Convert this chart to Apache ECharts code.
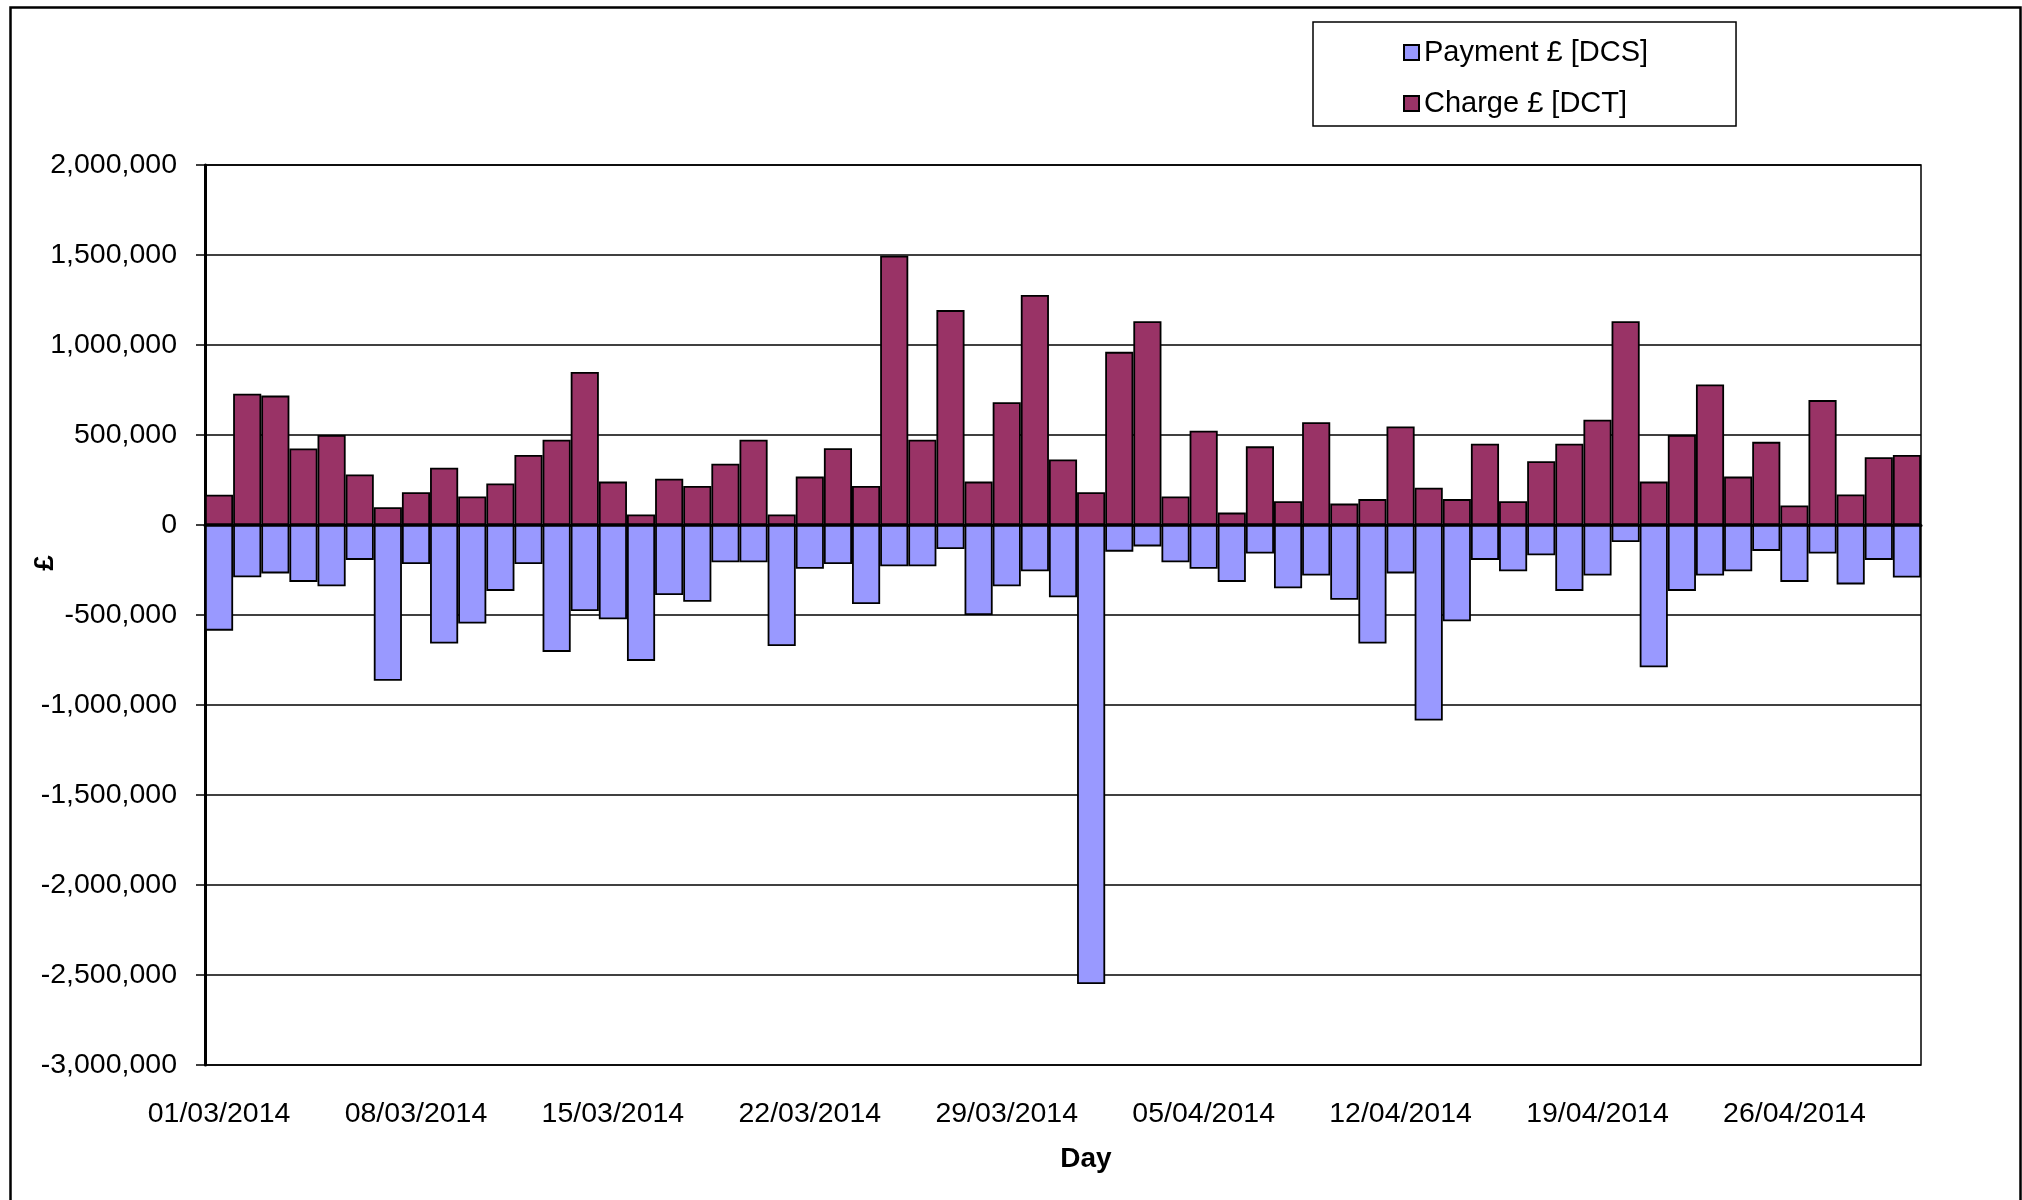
<!DOCTYPE html>
<html>
<head>
<meta charset="utf-8">
<title>Payment and Charge by Day</title>
<script src="https://cdn.jsdelivr.net/npm/echarts@6/dist/echarts.min.js"></script>
<style>
  html, body { margin: 0; padding: 0; background: #fff; }
  #main { width: 2022px; height: 1200px; }
</style>
</head>
<body>
<div id="main"></div>
<script>
var days = [
    '01/03/2014', '02/03/2014', '03/03/2014', '04/03/2014', '05/03/2014', '06/03/2014', '07/03/2014',
    '08/03/2014', '09/03/2014', '10/03/2014', '11/03/2014', '12/03/2014', '13/03/2014', '14/03/2014',
    '15/03/2014', '16/03/2014', '17/03/2014', '18/03/2014', '19/03/2014', '20/03/2014', '21/03/2014',
    '22/03/2014', '23/03/2014', '24/03/2014', '25/03/2014', '26/03/2014', '27/03/2014', '28/03/2014',
    '29/03/2014', '30/03/2014', '31/03/2014', '01/04/2014', '02/04/2014', '03/04/2014', '04/04/2014',
    '05/04/2014', '06/04/2014', '07/04/2014', '08/04/2014', '09/04/2014', '10/04/2014', '11/04/2014',
    '12/04/2014', '13/04/2014', '14/04/2014', '15/04/2014', '16/04/2014', '17/04/2014', '18/04/2014',
    '19/04/2014', '20/04/2014', '21/04/2014', '22/04/2014', '23/04/2014', '24/04/2014', '25/04/2014',
    '26/04/2014', '27/04/2014', '28/04/2014', '29/04/2014', '30/04/2014'
];

// Payment £ [DCS]
var payment = [
    -587000, -290000, -269000, -316000, -340000, -194000, -865000,
    -217000, -658000, -547000, -366000, -217000, -705000, -478000,
    -524000, -755000, -389000, -427000, -207000, -207000, -672000,
    -243000, -217000, -439000, -229000, -229000, -134000, -500000,
    -340000, -257000, -401000, -2550000, -148000, -119000, -207000,
    -243000, -316000, -158000, -352000, -281000, -415000, -658000,
    -269000, -1086000, -535000, -194000, -257000, -168000, -366000,
    -281000, -95000, -790000, -366000, -281000, -257000, -144000,
    -316000, -158000, -330000, -194000, -292000
];

// Charge £ [DCT]
var charge = [
    168000, 729000, 719000, 425000, 500000, 281000, 99000,
    182000, 318000, 158000, 231000, 389000, 474000, 850000,
    241000, 59000, 257000, 217000, 340000, 474000, 59000,
    269000, 427000, 217000, 1496000, 474000, 1194000, 241000,
    682000, 1278000, 364000, 182000, 962000, 1132000, 158000,
    524000, 69000, 437000, 132000, 571000, 119000, 144000,
    547000, 207000, 144000, 451000, 132000, 354000, 451000,
    585000, 1132000, 241000, 500000, 781000, 269000, 462000,
    109000, 694000, 170000, 377000, 389000
];

var seriesNames = ['Payment £ [DCS]', 'Charge £ [DCT]'];
var seriesColors = ['#9999ff', '#993366'];

var fontFamily = "'Liberation Sans', Arial, sans-serif";

function fmtNum(v) {
    var s = String(Math.abs(v)).replace(/\B(?=(\d{3})+(?!\d))/g, ',');
    return (v < 0 ? '-' : '') + s;
}

function render() {
    var myChart = echarts.init(document.getElementById('main'));

    var option = {
        backgroundColor: '#fff',
        animation: false,
        textStyle: { fontFamily: fontFamily, color: '#000' },
        grid: {
            left: 205,
            top: 165,
            width: 1716,
            height: 900,
            show: true,
            borderColor: '#000',
            borderWidth: 1.5,
            backgroundColor: 'transparent'
        },
        legend: {
            data: seriesNames,
            orient: 'vertical',
            left: 1313,
            top: 22,
            padding: [16, 88, 8, 90],
            itemGap: 22,
            itemWidth: 15,
            itemHeight: 15,
            icon: 'rect',
            borderColor: '#000',
            borderWidth: 1.5,
            borderRadius: 0,
            textStyle: { fontSize: 29, color: '#000', fontFamily: fontFamily }
        },
        xAxis: [
            {
                type: 'category',
                data: days,
                position: 'bottom',
                axisLine: { onZero: true, lineStyle: { color: '#000', width: 3 } },
                axisTick: { show: true, interval: 6, alignWithLabel: true, length: 8, lineStyle: { color: '#000', width: 3 } },
                axisLabel: { show: false },
                splitLine: { show: false }
            },
            {
                type: 'category',
                data: days,
                position: 'bottom',
                name: 'Day',
                nameLocation: 'middle',
                nameGap: 80,
                nameTextStyle: {
                    fontSize: 28,
                    fontWeight: 'bold',
                    color: '#000',
                    fontFamily: fontFamily,
                    padding: [0, 0, 0, 46]
                },
                axisLine: { show: false, onZero: false },
                axisTick: { show: false },
                axisLabel: { interval: 6, fontSize: 28.5, color: '#000', margin: 35, fontFamily: fontFamily },
                splitLine: { show: false }
            }
        ],
        yAxis: {
            type: 'value',
            min: -3000000,
            max: 2000000,
            interval: 500000,
            axisLine: { show: true, lineStyle: { color: '#000', width: 3 } },
            axisTick: { show: true, inside: false, length: 9, lineStyle: { color: '#000', width: 1.5 } },
            axisLabel: {
                fontSize: 28.5,
                color: '#000',
                margin: 28,
                fontFamily: fontFamily,
                formatter: fmtNum
            },
            splitLine: { show: true, lineStyle: { color: '#000', width: 1.5 } }
        },
        graphic: [
            {
                type: 'rect',
                left: 8,
                top: 5,
                shape: { width: 2010, height: 1400 },
                style: { fill: 'none', stroke: '#000', lineWidth: 2.5 },
                silent: true
            },
            {
                type: 'text',
                x: 45,
                y: 563,
                rotation: Math.PI / 2,
                style: {
                    text: '£',
                    font: 'bold 28px ' + fontFamily,
                    fill: '#000',
                    align: 'center',
                    verticalAlign: 'middle'
                }
            }
        ],
        series: [
            {
                name: seriesNames[0],
                type: 'bar',
                xAxisIndex: 0,
                data: payment,
                barGap: '-100%',
                barCategoryGap: '0%',
                itemStyle: { color: seriesColors[0], borderColor: '#000', borderWidth: 1.8 }
            },
            {
                name: seriesNames[1],
                type: 'bar',
                xAxisIndex: 0,
                data: charge,
                barGap: '-100%',
                barCategoryGap: '0%',
                itemStyle: { color: seriesColors[1], borderColor: '#000', borderWidth: 1.8 }
            }
        ]
    };

    myChart.setOption(option);
}

render();
</script>
</body>
</html>
